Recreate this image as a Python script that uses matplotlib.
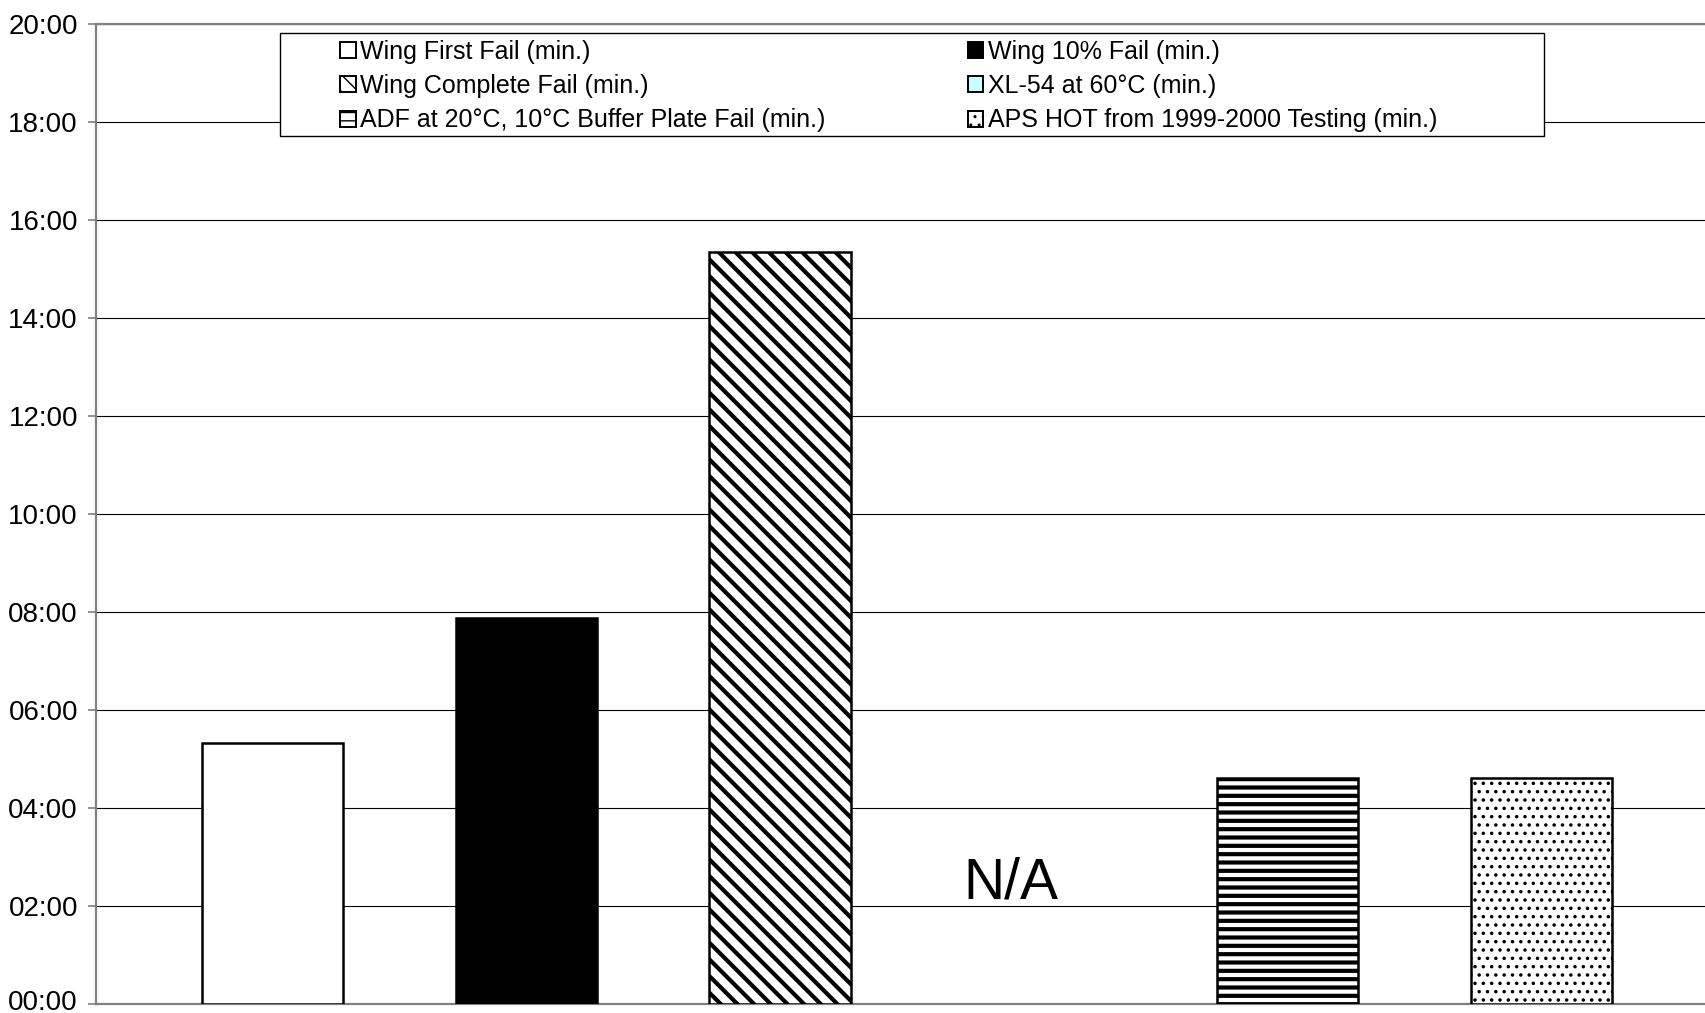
import numpy as np
import matplotlib
matplotlib.use("Agg")
import matplotlib.pyplot as plt
from matplotlib.patches import Patch, Rectangle
from matplotlib.ticker import FuncFormatter
from matplotlib.transforms import ScaledTranslation

plt.rcParams["font.family"] = ["Liberation Sans", "DejaVu Sans"]

# Failure times per test (minutes); NaN = not available
series = [
    "Wing First Fail (min.)",
    "Wing 10% Fail (min.)",
    "Wing Complete Fail (min.)",
    "XL-54 at 60°C (min.)",
    "ADF at 20°C, 10°C Buffer Plate Fail (min.)",
    "APS HOT from 1999-2000 Testing (min.)",
]
minutes = [5.33, 7.87, 15.35, np.nan, 4.6, 4.6]
y_ticks = [0, 2, 4, 6, 8, 10, 12, 14, 16, 18, 20]

faces = ["white", "black", "white", "#CCFFFF", "white", "white"]
hatches = [None, None, "\\\\", None, "--", ".."]
hatch_widths = [1.0, 1.0, 3.0, 1.0, 3.0, 1.3]

W, H, DPI = 1705, 1013, 100
fig = plt.figure(figsize=(W / DPI, H / DPI), dpi=DPI)
ax = fig.add_axes([96 / W, 1 - 1003.7 / H, 1 - 96 / W, (1003.7 - 23.7) / H])

x = np.arange(len(series))
for xi, val, fc, ht, hw in zip(x, minutes, faces, hatches, hatch_widths):
    if np.isnan(val):
        ax.text(xi - 0.09, 2.45, "N/A", fontsize=41, ha="center", va="center")
        continue
    with plt.rc_context({"hatch.linewidth": hw, "hatch.color": "black"}):
        bars = ax.bar(xi, val, width=0.556, facecolor=fc, edgecolor="black",
                      linewidth=1.8, hatch=ht, zorder=3)
    for b in bars:
        if hasattr(b, "set_hatch_linewidth"):
            b.set_hatch_linewidth(hw)

ax.set_xlim(-0.6956, 5.645)
ax.set_ylim(0, 20)
ax.set_yticks(y_ticks)
ax.yaxis.set_major_formatter(FuncFormatter(lambda v, p: f"{int(round(v)):02d}:00"))
ax.set_xticks([])
ax.yaxis.grid(True, color="black", linewidth=0.8, zorder=0)
ax.set_axisbelow(True)
ax.tick_params(axis="y", direction="out", length=6, width=1.2, color="#808080",
               pad=7, labelsize=20)
for side in ("left", "bottom", "top"):
    ax.spines[side].set_color("#808080")
    ax.spines[side].set_linewidth(1.6)
ax.spines["right"].set_visible(False)

# Legend frame
fig.patches.append(Rectangle((279.5 / W, 1 - 136 / H), (1544 - 279.5) / W, (136 - 32.6) / H,
                             transform=fig.transFigure, facecolor="white",
                             edgecolor="black", linewidth=1.0, zorder=1))

handles = []
for fc, ht, hw in zip(faces, hatches, hatch_widths):
    with plt.rc_context({"hatch.linewidth": min(hw, 1.0)}):
        h = Patch(facecolor=fc, edgecolor="black", linewidth=1.4, hatch=ht)
    handles.append(h)

leg_kw = dict(loc="center left", frameon=False, fontsize=18, borderpad=0,
              borderaxespad=0, handlelength=0.62, handleheight=0.62,
              handletextpad=0.2, labelspacing=0.42, bbox_transform=fig.transFigure)
col1 = [0, 2, 4]
col2 = [1, 3, 5]
l1 = fig.legend([handles[i] for i in col1], [series[i] for i in col1],
                bbox_to_anchor=(340 / W, 1 - 86 / H), **leg_kw)
l2 = fig.legend([handles[i] for i in col2], [series[i] for i in col2],
                bbox_to_anchor=(967.8 / W, 1 - 86 / H), **leg_kw)
l1.set_zorder(2)
l2.set_zorder(2)

# Nudge the bottom tick label up so it stays inside the canvas
fig.canvas.draw()
zero_lbl = ax.yaxis.get_major_ticks()[0].label1
zero_lbl.set_transform(zero_lbl.get_transform() + ScaledTranslation(0, 3 / 72, fig.dpi_scale_trans))

fig.savefig("out.png", dpi=DPI, facecolor="white")
